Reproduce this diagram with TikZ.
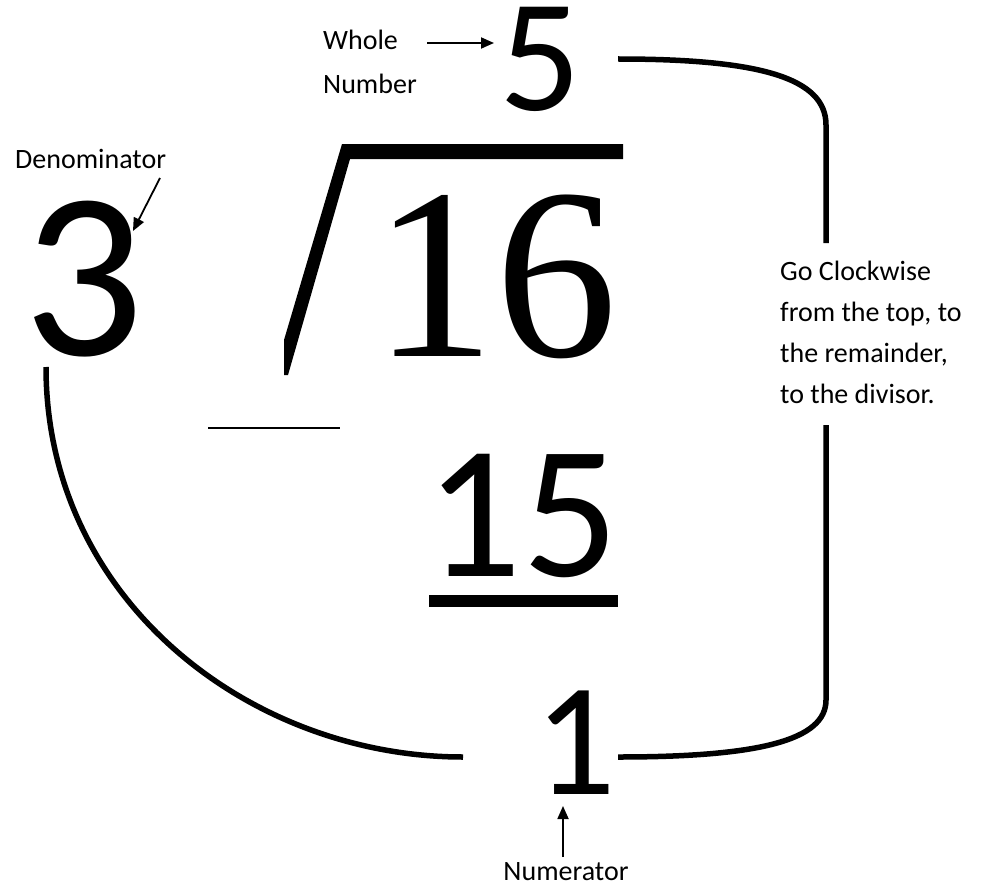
\documentclass[tikz,border=0pt]{standalone}
\usepackage{fontspec}
\setmainfont{Carlito}
\newfontfamily\serifdigits{Liberation Serif}
\usetikzlibrary{arrows.meta}
\begin{document}
\begin{tikzpicture}[x=1pt,y=-1pt,
  digit/.style={inner sep=0pt, anchor=base, text height=0.66em, text depth=0pt},
  lbl/.style={inner sep=0pt, font=\fontsize{28}{34}\selectfont},
  pointer/.style={line width=1.8pt, -{Triangle[length=13pt,width=11pt]}},
  bracket/.style={line width=5.5pt},
  thinbar/.style={line width=2.5pt}]
\useasboundingbox (0,0) rectangle (990,888);

% digits
\node[digit, font=\fontsize{161}{161}\selectfont] (five) at (540,111) {5};
\node[digit, font=\fontsize{238}{238}\selectfont] (three) at (84,355) {3};
\node[digit, font=\serifdigits\fontsize{244}{244}\selectfont] (sixteen) at (495,356) {16};
\node[digit, font=\fontsize{190}{190}\selectfont] (fifteen) at (522,576) {15};
\node[digit, font=\fontsize{161}{161}\selectfont] (one) at (575,794) {1};

% labels
\node[lbl, anchor=base west] (whole) at (323,50) {Whole};
\node[lbl, anchor=base west] (number) at (323,94) {Number};
\node[lbl, anchor=base west] (denom) at (15,168) {Denominator};
\node[lbl, anchor=base] (numer) at (566,880) {Numerator};
\node[lbl, anchor=base west] (g1) at (780,280) {Go Clockwise};
\node[lbl, anchor=base west] (g2) at (780,321) {from the top, to};
\node[lbl, anchor=base west] (g3) at (780,362) {the remainder,};
\node[lbl, anchor=base west] (g4) at (780,403) {to the divisor.};

% division bracket
\fill (284,340) -- (342,144) -- (623,144) -- (623,159) -- (350,159) -- (288,375) -- (284,375) -- cycle;
\draw[thinbar] (208,428) -- (340,428);
\fill (429,595) rectangle (618,607);

% pointer arrows
\coordinate (wa) at (427,43);
\coordinate (wb) at (494,43);
\coordinate (da) at (160,178);
\coordinate (db) at (133,231);
\coordinate (na) at (563,857);
\coordinate (nb) at (563,806);
\draw[pointer] (wa) -- (wb);
\draw[pointer] (da) -- (db);
\draw[pointer] (na) -- (nb);

% clockwise path
\coordinate (r1) at (618,59);
\coordinate (r2) at (826,243);
\coordinate (r3) at (826,425);
\coordinate (r4) at (618,757);
\coordinate (l1) at (463,757);
\coordinate (l2) at (46,367);
\draw[bracket] (r1) .. controls (760,59) and (826,78) .. (826,125) -- (r2);
\draw[bracket] (r3) -- (826,700) .. controls (826,740) and (760,757) .. (r4);
\draw[bracket] (l1) .. controls (250,757) and (46,600) .. (l2);
\end{tikzpicture}
\end{document}
